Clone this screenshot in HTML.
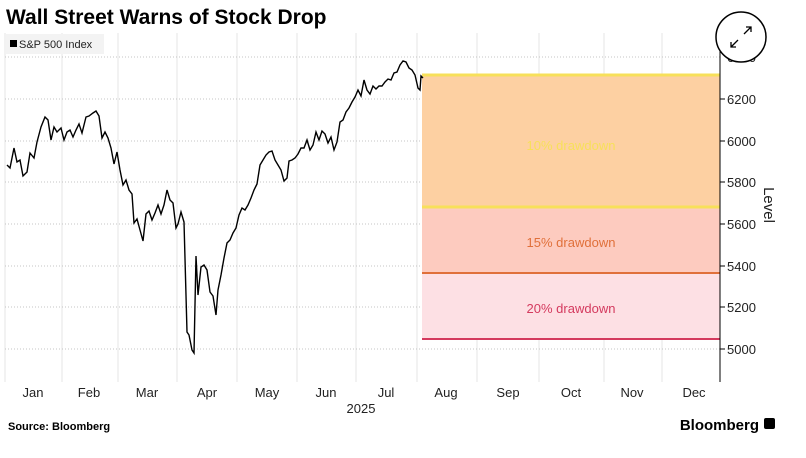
<!DOCTYPE html><html><head><style>
body{margin:0;background:#fff;width:806px;height:453px;overflow:hidden;font-family:"Liberation Sans",sans-serif}
</style></head><body>
<svg width="806" height="453" xmlns="http://www.w3.org/2000/svg" font-family="Liberation Sans, sans-serif">
<text x="6" y="24" font-size="21" font-weight="bold" fill="#000">Wall Street Warns of Stock Drop</text>
<g stroke="#e6e6e6" stroke-width="1">
<line x1="5" y1="33" x2="5" y2="382"/><line x1="62" y1="33" x2="62" y2="382"/><line x1="118" y1="33" x2="118" y2="382"/><line x1="177" y1="33" x2="177" y2="382"/><line x1="237" y1="33" x2="237" y2="382"/><line x1="297" y1="33" x2="297" y2="382"/><line x1="356" y1="33" x2="356" y2="382"/><line x1="417" y1="33" x2="417" y2="382"/><line x1="477" y1="33" x2="477" y2="382"/><line x1="539" y1="33" x2="539" y2="382"/><line x1="604" y1="33" x2="604" y2="382"/><line x1="662" y1="33" x2="662" y2="382"/>
</g>
<g stroke="#c4c4c4" stroke-dasharray="1,2">
<line x1="5" y1="57" x2="720" y2="57"/><line x1="5" y1="99" x2="720" y2="99"/><line x1="5" y1="141" x2="720" y2="141"/><line x1="5" y1="182" x2="720" y2="182"/><line x1="5" y1="224" x2="720" y2="224"/><line x1="5" y1="266" x2="720" y2="266"/><line x1="5" y1="307" x2="720" y2="307"/><line x1="5" y1="349" x2="720" y2="349"/>
</g>
<rect x="422" y="75" width="298" height="132" fill="#fdd0a2"/>
<rect x="422" y="207" width="298" height="66" fill="#fdcbbf"/>
<rect x="422" y="273" width="298" height="66" fill="#fde0e4"/>
<line x1="422" y1="75" x2="720" y2="75" stroke="#f7e05a" stroke-width="3"/>
<line x1="422" y1="207" x2="720" y2="207" stroke="#f7e05a" stroke-width="3"/>
<line x1="422" y1="273" x2="720" y2="273" stroke="#e0703a" stroke-width="2"/>
<line x1="422" y1="339" x2="720" y2="339" stroke="#d43a5e" stroke-width="2"/>
<text x="571" y="150" font-size="13" fill="#f7e05a" text-anchor="middle">10% drawdown</text>
<text x="571" y="247" font-size="13" fill="#e0703a" text-anchor="middle">15% drawdown</text>
<text x="571" y="313" font-size="13" fill="#d43a5e" text-anchor="middle">20% drawdown</text>
<rect x="6" y="34" width="98" height="20" fill="#f3f3f3"/>
<rect x="10" y="40" width="7" height="7" fill="#000"/>
<text x="19" y="48" font-size="11" fill="#222">S&amp;P 500 Index</text>
<polyline fill="none" stroke="#000" stroke-width="1.4" points="7,165 10,168 14,148 17,162 20,160 23,176 27,172 30,153 34,158 37,142 41,127 45,117 48,120 51,140 54,127 57,132 61,128 64,140 67,132 70,130 73,137 76,130 79,124 82,133 86,117 89,116 93,113 96,111 99,116 102,138 105,132 108,138 111,148 114,164 117,152 120,170 123,185 126,180 129,190 132,194 134,223 137,219 140,230 143,241 146,214 149,211 152,220 155,213 158,205 161,214 164,205 167,190 170,200 173,203 176,228 178,224 181,212 184,222 187,332 189,335 192,350 194,353 196,256 198,295 201,267 204,265 207,270 210,292 213,296 216,315 218,290 221,275 224,258 227,243 230,240 233,233 236,228 239,215 242,208 245,210 248,205 251,198 254,190 257,184 260,165 263,160 266,155 269,152 272,151 275,160 278,165 281,170 284,181 287,178 289,161 292,160 295,158 298,154 301,148 304,148 307,140 310,150 313,145 316,132 319,140 322,131 325,134 328,143 331,137 334,150 337,142 340,122 343,120 346,112 349,108 352,102 355,97 358,90 361,96 364,80 367,90 370,94 373,86 376,89 379,86 382,86 385,82 388,79 391,80 394,73 397,72 400,65 403,61 406,62 409,68 412,70 415,75 418,88 420,90 421,76 423,78"/>
<line x1="720" y1="33" x2="720" y2="382" stroke="#000"/>
<g stroke="#000"><line x1="720" y1="99" x2="725" y2="99"/><line x1="720" y1="141" x2="725" y2="141"/><line x1="720" y1="182" x2="725" y2="182"/><line x1="720" y1="224" x2="725" y2="224"/><line x1="720" y1="266" x2="725" y2="266"/><line x1="720" y1="307" x2="725" y2="307"/><line x1="720" y1="349" x2="725" y2="349"/></g>
<g font-size="13" fill="#222">
<text x="727" y="104">6200</text><text x="727" y="146">6000</text><text x="727" y="187">5800</text><text x="727" y="229">5600</text><text x="727" y="271">5400</text><text x="727" y="312">5200</text><text x="727" y="354">5000</text>
<text x="727" y="62">6400</text>
<text transform="translate(764,205) rotate(90)" font-size="15" text-anchor="middle">Level</text>
</g>
<g font-size="13" fill="#222" text-anchor="middle">
<text x="33" y="397">Jan</text><text x="89" y="397">Feb</text><text x="147" y="397">Mar</text><text x="207" y="397">Apr</text><text x="267" y="397">May</text><text x="326" y="397">Jun</text><text x="386" y="397">Jul</text><text x="446" y="397">Aug</text><text x="508" y="397">Sep</text><text x="571" y="397">Oct</text><text x="632" y="397">Nov</text><text x="694" y="397">Dec</text>
<text x="361" y="413">2025</text>
</g>
<circle cx="741" cy="37" r="25" fill="#fff" stroke="#000" stroke-width="1.5"/>
<g stroke="#000" stroke-width="1.3" fill="none"><path d="M744 34 L751 27 M746 27 L751 27 L751 32"/><path d="M738 40 L731 47 M731 42 L731 47 L736 47"/></g>
<text x="8" y="430" font-size="11" font-weight="bold" fill="#000">Source: Bloomberg</text>
<text x="759" y="430" font-size="15" font-weight="bold" fill="#000" text-anchor="end">Bloomberg</text>
<rect x="764" y="418" width="11" height="11" rx="2" fill="#000"/>
</svg>
</body></html>
